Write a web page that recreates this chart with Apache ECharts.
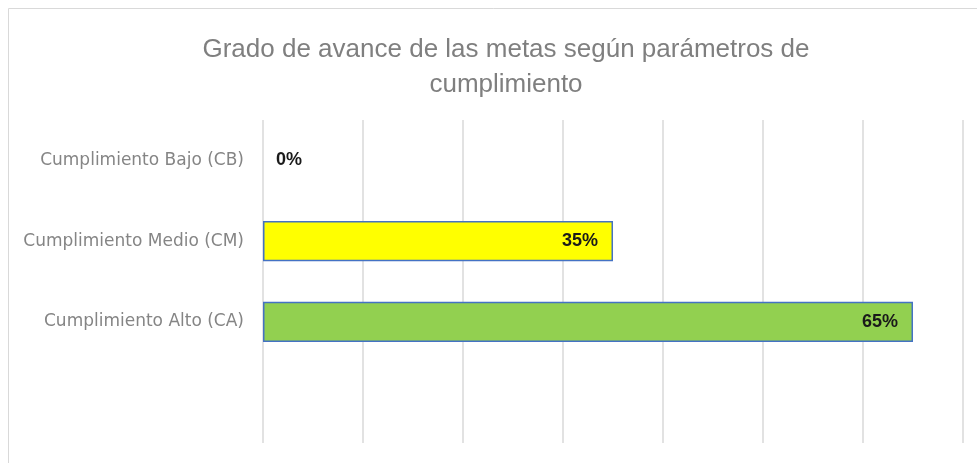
<!DOCTYPE html>
<html><head><meta charset="utf-8">
<script src="https://cdn.jsdelivr.net/npm/echarts@6/dist/echarts.min.js"></script>
<style>html,body{margin:0;padding:0;background:#fff}#c{width:977px;height:463px}</style>
</head><body><div id="c"></div>
<script>
const titleText = 'Grado de avance de las metas según parámetros de\ncumplimiento';
const categories = ['Cumplimiento Bajo (CB)', 'Cumplimiento Medio (CM)', 'Cumplimiento Alto (CA)', ''];
const values = [0, 35, 65, null];
const barColors = ['#FFFF00', '#FFFF00', '#92D050', '#92D050'];
const axisMax = 70;
const axisStep = 10;

const chart = echarts.init(document.getElementById('c'), null, {renderer: 'canvas'});
chart.setOption({
  animation: false,
  graphic: [{type: 'rect', shape: {x: 8.5, y: 8.5, width: 1200, height: 1200}, style: {fill: 'none', stroke: '#d9d9d9', lineWidth: 1}, silent: true}],
  title: {
    text: titleText, left: 501, top: 27, textAlign: 'center',
    textStyle: {fontFamily: 'Liberation Sans, Arial, sans-serif', fontSize: 26, fontWeight: 'normal', color: '#7f7f7f', lineHeight: 35, align: 'center'}
  },
  grid: {left: 263, right: 14, top: 120, bottom: 20, containLabel: false},
  xAxis: {
    type: 'value', min: 0, max: axisMax, interval: axisStep,
    axisLabel: {show: false}, axisLine: {show: false}, axisTick: {show: false},
    splitLine: {show: true, lineStyle: {color: '#d9d9d9', width: 1.5}}
  },
  yAxis: {
    type: 'category', data: categories, inverse: true,
    axisLine: {show: false}, axisTick: {show: false},
    axisLabel: {margin: 19, color: '#858585', fontFamily: 'DejaVu Sans, sans-serif', fontSize: 17}
  },
  series: [{
    type: 'bar', barWidth: '50%',
    data: values.map((v, i) => ({
      value: v,
      itemStyle: {color: barColors[i], borderWidth: v ? 1.5 : 0},
      label: {position: v === 0 ? 'right' : 'insideRight', distance: v === 0 ? 13 : 15}
    })),
    itemStyle: {borderColor: '#4472C4'},
    label: {show: true, formatter: p => p.value == null ? '' : p.value + '%', fontFamily: 'Liberation Sans, sans-serif', fontWeight: 'bold', fontSize: 18, color: '#1a1a1a'}
  }]
});
</script></body></html>
